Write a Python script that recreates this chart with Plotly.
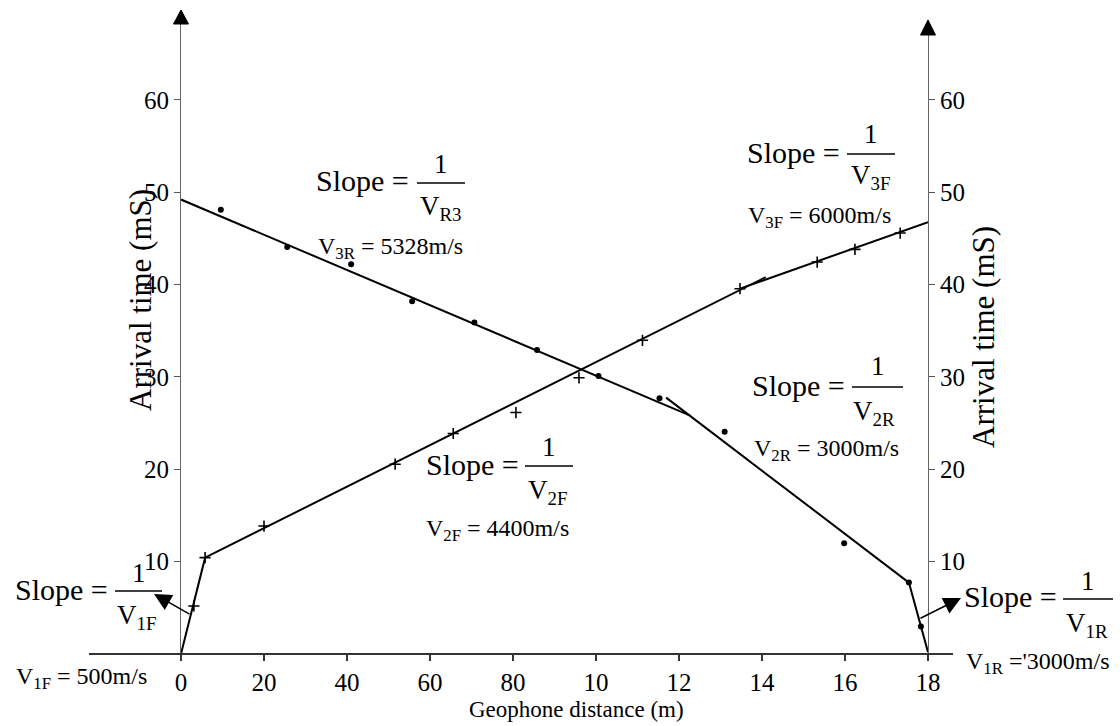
import plotly.graph_objects as go

# ---------------- data ----------------
x_tick_vals = [0, 2, 4, 6, 8, 10, 12, 14, 16, 18]
x_tick_text = ["0", "20", "40", "60", "80", "10", "12", "14", "16", "18"]
y_tick_vals = [10, 20, 30, 40, 50, 60]
y_tick_text = ["10", "20", "30", "40", "50", "60"]

# forward shot arrivals (+ markers)
fwd_dist = [0.31, 0.58, 2.0, 5.16, 6.56, 8.07, 9.59, 11.12, 13.47, 15.33, 16.24, 17.33]
fwd_time = [5.2, 10.43, 13.85, 20.55, 23.87, 26.14, 29.9, 33.96, 39.55, 42.43, 43.8, 45.57]

# reverse shot arrivals (dots)
rev_dist = [0.96, 2.56, 4.1, 5.57, 7.07, 8.58, 10.06, 11.53, 13.1, 15.98, 17.54, 17.83]
rev_time = [48.1, 44.05, 42.2, 38.2, 35.9, 32.9, 30.1, 27.7, 24.05, 11.98, 7.73, 2.97]

# fitted segments (endpoints)
fwd_fit_x = [0, 0.58, None, 0.58, 14.09, None, 13.47, 18]
fwd_fit_y = [0, 10.43, None, 10.43, 40.8, None, 39.55, 46.76]
rev_fit_x = [0, 12.27, None, 11.69, 17.54, None, 17.54, 18]
rev_fit_y = [49.2, 25.8, None, 27.76, 7.73, None, 7.73, 0.2]

# ---------------- layout geometry ----------------
W, H = 1120, 726
L, R, T, B = 181, 192, 20, 72
PW, PH = W - L - R, H - T - B
Y_TOP = PH / 9.237
FONT = "Liberation Serif, Times New Roman, serif"


def px(x):
    return (x - L) / PW


def py(y):
    return (H - B - y) / PH


fig = go.Figure()
fig.add_trace(go.Scatter(x=fwd_fit_x, y=fwd_fit_y, mode="lines",
                         line=dict(color="black", width=2), showlegend=False,
                         hoverinfo="skip", cliponaxis=False))
fig.add_trace(go.Scatter(x=rev_fit_x, y=rev_fit_y, mode="lines",
                         line=dict(color="black", width=2), showlegend=False,
                         hoverinfo="skip", cliponaxis=False))
fig.add_trace(go.Scatter(x=fwd_dist, y=fwd_time, mode="markers",
                         marker=dict(symbol="cross-thin", size=8, color="black",
                                     line=dict(color="black", width=1.6)),
                         showlegend=False, cliponaxis=False))
fig.add_trace(go.Scatter(x=rev_dist, y=rev_time, mode="markers",
                         marker=dict(symbol="circle", size=6, color="black"),
                         showlegend=False, cliponaxis=False))
fig.add_trace(go.Scatter(x=[None], y=[None], yaxis="y2", showlegend=False))

ann = []
shapes = []


def txt(x, y, s, size, angle=0):
    ann.append(dict(x=px(x), y=py(y), xref="paper", yref="paper", text=s,
                    showarrow=False, textangle=angle,
                    font=dict(family=FONT, size=size, color="black"),
                    xanchor="center", yanchor="middle"))


def slope_block(cx, ey, bx0, bx1, by, oy, vx, vy, sub):
    txt(cx, ey, "Slope =", 30)
    shapes.append(dict(type="line", xref="paper", yref="paper",
                       x0=px(bx0), x1=px(bx1), y0=py(by), y1=py(by),
                       line=dict(color="black", width=1.3)))
    txt((bx0 + bx1) / 2, oy, "1", 27)
    txt(vx, vy, "V<sub>" + sub + "</sub>", 27)


slope_block(61, 589, 115, 162, 591, 573, 136, 617, "1F")
slope_block(362, 181, 417, 465, 183, 164, 441, 208, "R3")
slope_block(793.5, 152, 847, 895, 154, 134, 870, 177, "3F")
slope_block(798.5, 385, 852, 903, 387, 366, 874, 413, "2R")
slope_block(472.5, 464, 525, 573, 466, 447, 547, 492, "2F")
slope_block(1010, 596, 1063, 1113, 599, 581, 1087, 625, "1R")

txt(81, 678, "V<sub>1F</sub> = 500m/s", 24)
txt(390.5, 248, "V<sub>3R</sub> = 5328m/s", 24)
txt(819.5, 217, "V<sub>3F</sub> = 6000m/s", 24)
txt(826.5, 450, "V<sub>2R</sub> = 3000m/s", 24)
txt(497.5, 530, "V<sub>2F</sub> = 4400m/s", 24)
txt(1037.5, 663, "V<sub>1R</sub> ='3000m/s", 24)

txt(140, 300, "Arrival time (mS)", 31, -90)
txt(983, 337, "Arrival time (mS)", 31, -90)
txt(576.5, 710, "Geophone distance (m)", 23)


def arrow(tipx, tipy, tailx, taily):
    ann.append(dict(x=px(tipx), y=py(tipy), xref="paper", yref="paper",
                    ax=tailx - tipx, ay=taily - tipy, text="", showarrow=True,
                    arrowhead=2, arrowsize=2.3, arrowwidth=1.5, arrowcolor="black",
                    standoff=0, startstandoff=0))


arrow(154, 594, 191, 615)
arrow(961, 598, 919, 619)

# extended x axis line
shapes.append(dict(type="line", xref="paper", yref="paper",
                   x0=px(89), x1=px(953), y0=0, y1=0,
                   line=dict(color="#333", width=2)))
# axis arrow heads
for tx, ty, base in [(181, 10, 24), (928, 20, 35)]:
    path = "M {} {} L {} {} L {} {} Z".format(px(tx), py(ty), px(tx - 7.5), py(base),
                                              px(tx + 7.5), py(base))
    shapes.append(dict(type="path", xref="paper", yref="paper", path=path,
                       fillcolor="black", line=dict(color="black", width=1)))

axis_font = dict(family=FONT, size=25, color="black")
fig.update_layout(
    width=W, height=H,
    margin=dict(l=L, r=R, t=T, b=B, pad=0),
    paper_bgcolor="white", plot_bgcolor="white",
    showlegend=False,
    xaxis=dict(range=[0, 18], tickvals=x_tick_vals, ticktext=x_tick_text,
               ticks="outside", ticklen=6, tickwidth=1.5, tickcolor="#333",
               showline=False, showgrid=False, zeroline=False,
               tickfont=axis_font, ticklabelstandoff=0),
    yaxis=dict(range=[0, Y_TOP], tickvals=y_tick_vals, ticktext=y_tick_text,
               ticks="outside", ticklen=6, tickwidth=1.2, tickcolor="#555",
               showline=True, linecolor="#666", linewidth=1.2,
               showgrid=False, zeroline=False, tickfont=axis_font),
    yaxis2=dict(range=[0, Y_TOP], tickvals=y_tick_vals, ticktext=y_tick_text,
                overlaying="y", side="right", anchor="x",
                ticks="outside", ticklen=6, tickwidth=1.2, tickcolor="#555",
                showline=True, linecolor="#666", linewidth=1.2,
                showgrid=False, zeroline=False, tickfont=axis_font),
    annotations=ann,
    shapes=shapes,
)

fig.write_html("out.html")
